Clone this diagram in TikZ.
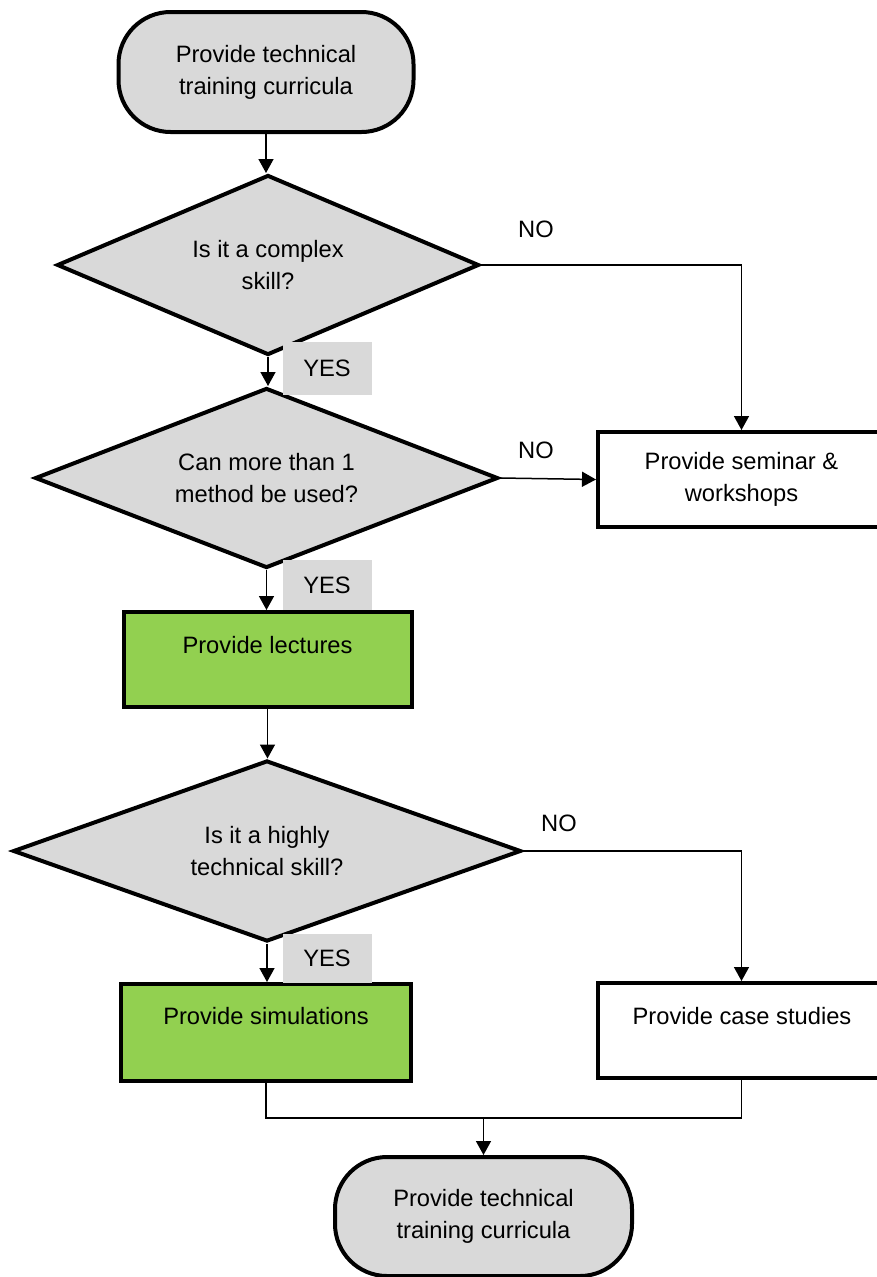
\documentclass[tikz,border=0pt]{standalone}
\usepackage{fontspec}
\setmainfont{Liberation Sans}
\usetikzlibrary{shapes.geometric,arrows.meta}
\definecolor{shapegray}{HTML}{D9D9D9}
\definecolor{boxgreen}{HTML}{92D050}
\begin{document}
\begin{tikzpicture}[x=1pt,y=-1pt,
  font=\fontsize{23.7}{32}\selectfont,
  shapeline/.style={draw=black,line width=4pt},
  term/.style={shapeline,fill=shapegray,rectangle,rounded corners=52pt,minimum width=295pt,minimum height=120pt,inner sep=0pt,align=center},
  decision/.style={shapeline,fill=shapegray,diamond,shape aspect=2.3,inner sep=0pt,align=center},
  procbox/.style={shapeline,rectangle,minimum width=288pt,minimum height=95pt,inner sep=0pt,align=center},
  yesbox/.style={fill=shapegray,minimum width=89pt,inner sep=0pt},
  conn/.style={draw=black,line width=1.5pt,-{Triangle[length=14pt,width=15pt]}},
  link/.style={draw=black,line width=1.5pt},
  txt/.style={align=center,inner sep=0pt}
]
\clip (0,0) rectangle (877,1277);

% nodes
\node[term] (top) at (266,72) {Provide technical\\training curricula};
\node[decision,minimum width=422pt,minimum height=180pt] (d1) at (268,265) {Is it a complex\\skill?};
\node[decision,minimum width=463pt,minimum height=180pt] (d2) at (266.5,478) {Can more than 1\\method be used?};
\node[procbox,fill=boxgreen] (lec) at (267.5,659.5) {};
\node[txt] (lectxt) at (267.5,645) {Provide lectures};
\node[decision,minimum width=508pt,minimum height=181pt] (d3) at (267,851) {Is it a highly\\technical skill?};
\node[procbox,fill=boxgreen,minimum width=290pt,minimum height=97pt] (sim) at (266,1032.5) {};
\node[txt] (simtxt) at (266,1016.5) {Provide simulations};
\node[procbox,fill=white,minimum width=287pt] (sem) at (741.5,479.5) {Provide seminar \&\\workshops};
\node[procbox,fill=white,minimum width=287pt] (case) at (741.5,1030.5) {};
\node[txt] (casetxt) at (742,1016.5) {Provide case studies};
\node[term,minimum width=297pt,minimum height=119pt] (bot) at (483.5,1216.5) {Provide technical\\training curricula};

% labels
\node[yesbox,minimum height=53pt] (yes1) at (327,368.5) {YES};
\node[yesbox,minimum height=50pt] (yes2) at (327,585) {YES};
\node[yesbox,minimum height=49pt] (yes3) at (327,958) {YES};
\node[txt] (no1) at (536,229) {NO};
\node[txt] (no2) at (536,450) {NO};
\node[txt] (no3) at (559,823) {NO};

% connectors
\draw[conn] (top.south) -- (top.south |- d1.north);
\draw[conn] (d1.south) -- (d1.south |- d2.north);
\draw[conn] (d2.south) -- (d2.south |- lec.north);
\draw[conn] (lec.south) -- (lec.south |- d3.north);
\draw[conn] (d3.south) -- (d3.south |- sim.north);
\draw[conn] (d1.east) -- (sem.north |- d1.east) -- (sem.north);
\draw[conn] (d2.east) -- (sem.west);
\draw[conn] (d3.east) -- (case.north |- d3.east) -- (case.north);
\coordinate (merge) at (483.5,1118);
\draw[link] (sim.south) |- (merge) -| (case.south);
\draw[conn] (merge) -- (bot.north);
\end{tikzpicture}
\end{document}
